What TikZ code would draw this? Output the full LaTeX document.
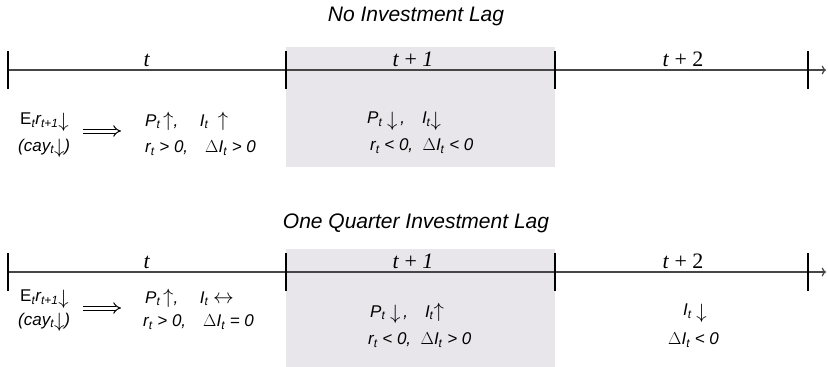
\documentclass[tikz,border=0pt]{standalone}
\usepackage{fontspec}
\setmainfont{Liberation Sans}
\newfontfamily\timesfont{Liberation Serif}
\usepackage{tikz}
\usetikzlibrary{calc}
\usetikzlibrary{arrows.meta}
\definecolor{periodgray}{RGB}{232,230,234}
\definecolor{axisgray}{RGB}{70,70,70}
\newcommand{\period}[4]{\fill[periodgray] ( #1 , #2 ) rectangle ( #3 , #4 );}
\newcommand{\tick}[2]{\draw[line width=1.4pt] ( #1 , #2 - 19 ) -- ( #1 , #2 + 19 );}
\newcommand{\timeline}[1]{\draw[axisgray, line width=1.2pt, ->] ( 8 , #1 ) -- ( 826 , #1 );}
\newcommand{\sub}[1]{\textsubscript{#1}}
\newcommand{\up}{{\fontsize{20}{20}\selectfont$\uparrow$}}
\newcommand{\dn}{\raisebox{-0.25ex}{\fontsize{20}{20}\selectfont$\downarrow$}}
\newcommand{\lr}{{\fontsize{20}{20}\selectfont$\leftrightarrow$}}
\tikzset{
  title/.style={font=\fontsize{21}{24}\selectfont\itshape},
  lbl/.style={font=\timesfont\fontsize{22}{24}\selectfont, anchor=base, inner sep=0pt},
  eq/.style={font=\fontsize{17}{20}\selectfont\itshape, inner sep=0pt},
  dblarrow/.style={draw=black, line width=1pt, double=white, double distance=3pt, -{Implies[length=8pt]}}
}

\begin{document}
\begin{tikzpicture}[x=1pt, y=-1pt]
        \useasboundingbox (0,0) rectangle (828,367);
        % panel1
        \period{286}{47}{555}{167}
        \timeline{70}
        \tick{8}{70}
        \tick{286}{70}
        \tick{555}{70}
        \tick{808}{70}
        \node[title] (nolag) at (416,16) {No Investment Lag};
        \node[lbl] (t1) at (147,66) {\textit{t}};
        \node[lbl] (t1a) at (413,66) {\textit{t} + \textit{1}};
        \node[lbl] (t1b) at (683,66) {\textit{t} + 2};
        \node[eq, anchor=west] (er1) at (20,122) {{\upshape E}\sub{t}r\sub{t+1}\dn};
        \node[eq, anchor=west] (cay1) at (18,148) {(cay\sub{t}\dn)};
        \coordinate (imp1a) at (83,131);
        \coordinate (imp1b) at (121,131);
        \draw[dblarrow] (imp1a) -- (imp1b);
        \node[eq, anchor=west] (pa1) at (145,121) {P\sub{t}\,\up,\quad\ I\sub{t}\ \ \up};
        \node[eq, anchor=west] (ra1) at (145,148) {r\sub{t} > 0,\quad $\Delta$I\sub{t} > 0};
        \node[eq, anchor=west] (pb1) at (367,121) {P\sub{t}\ \dn\,,\quad I\sub{t}\dn};
        \node[eq, anchor=west] (rb1) at (370,146) {r\sub{t} < 0,\ \ $\Delta$I\sub{t} < 0};
        % panel2
        \period{286}{249}{555}{369}
        \timeline{272}
        \tick{8}{272}
        \tick{286}{272}
        \tick{555}{272}
        \tick{808}{272}
        \node[title] (qlag) at (416,223) {One Quarter Investment Lag};
        \node[lbl] (t2) at (147,268) {\textit{t}};
        \node[lbl] (t2a) at (413,268) {\textit{t} + \textit{1}};
        \node[lbl] (t2b) at (683,268) {\textit{t} + 2};
        \node[eq, anchor=west] (er2) at (20,299) {{\upshape E}\sub{t}r\sub{t+1}\dn};
        \node[eq, anchor=west] (cay2) at (18,322) {(cay\sub{t}\dn)};
        \coordinate (imp2a) at (83,308);
        \coordinate (imp2b) at (121,308);
        \draw[dblarrow] (imp2a) -- (imp2b);
        \node[eq, anchor=west] (pa2) at (145,298) {P\sub{t}\,\up,\quad\ I\sub{t}\ \lr};
        \node[eq, anchor=west] (ra2) at (143,322) {r\sub{t} > 0,\quad $\Delta$I\sub{t} = 0};
        \node[eq, anchor=west] (pb2) at (370,313) {P\sub{t}\ \dn\,,\quad I\sub{t}\up};
        \node[eq, anchor=west] (rb2) at (368,340) {r\sub{t} < 0,\ \ $\Delta$I\sub{t} > 0};
        \node[eq, anchor=west] (pc2) at (683,313) {I\sub{t}\ \dn};
        \node[eq, anchor=west] (rc2) at (668,340) {$\Delta$I\sub{t} < 0};
    \end{tikzpicture}
\end{document}
